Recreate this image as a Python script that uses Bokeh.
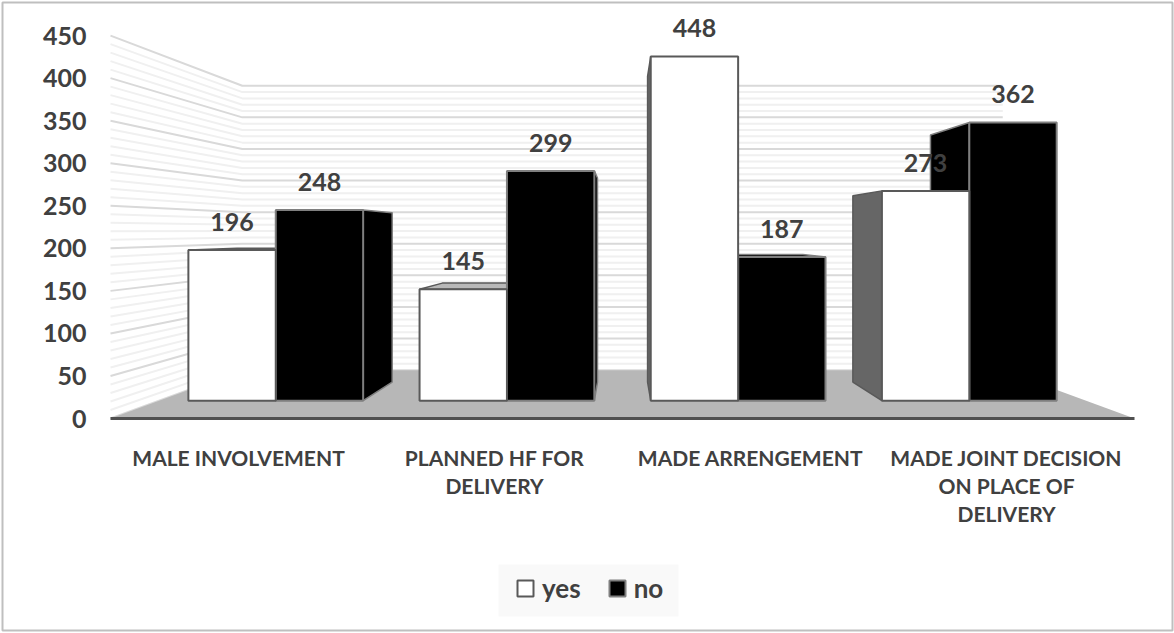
from bokeh.plotting import figure
from bokeh.models import ColumnDataSource, FixedTicker, Range1d, Legend, LegendItem, BoxAnnotation
from bokeh.core.properties import value
from bokeh.embed import file_html
from bokeh.resources import INLINE

categories = ["MALE INVOLVEMENT", "PLANNED HF FOR\nDELIVERY", "MADE ARRENGEMENT",
              "MADE JOINT DECISION\nON PLACE OF\nDELIVERY"]
yes_values = [196, 145, 448, 273]
no_values = [248, 299, 187, 362]
y_ticks = [0, 50, 100, 150, 200, 250, 300, 350, 400, 450]
minor_ticks = [v for v in range(0, 451, 10) if v % 50]

FONT = "Lato"
TEXT = "#404040"
# perspective of the 3-D scene, expressed in axis units
VX, VV = 1.5, 216.2        # vanishing point of the bars
VV_WALL = 220.9            # vanishing height of walls and floor
S_FRONT, S_DEPTH = 0.9030, 0.888   # bar front plane, bar back / front ratio
S_WALL = 0.7426            # back wall plane
BAR_W = 0.378              # width of one bar on the axis plane
X_L, X_R = -0.5, 3.5       # floor extent


def proj(x, v, s, vv=VV):
    return VX + s * (x - VX), vv + s * (v - vv)


p = figure(width=1174, height=633, output_backend="svg", toolbar_location=None,
           x_range=Range1d(-0.9297, 3.656), y_range=Range1d(-252.6, 491.2),
           min_border_left=0, min_border_right=0, min_border_top=0, min_border_bottom=0)
p.outline_line_color = None
p.grid.visible = False
p.background_fill_color = "white"
p.border_fill_color = "white"

# axes
ya = p.yaxis[0]
ya.fixed_location = X_L
ya.ticker = FixedTicker(ticks=y_ticks)
ya.axis_line_color = None
ya.major_tick_line_color = None
ya.minor_tick_line_color = None
ya.major_label_text_font = FONT
ya.major_label_text_font_style = "bold"
ya.major_label_text_font_size = "25px"
ya.major_label_text_color = TEXT
ya.major_label_standoff = 18

xa = p.xaxis[0]
xa.fixed_location = 0
xa.ticker = FixedTicker(ticks=[0, 1, 2, 3])
xa.major_label_overrides = {i: c for i, c in enumerate(categories)}
xa.bounds = (X_L, X_R)
xa.axis_line_color = "#505050"
xa.axis_line_width = 3
xa.major_tick_line_color = None
xa.minor_tick_line_color = None
xa.major_label_text_font = FONT
xa.major_label_text_font_style = "bold"
xa.major_label_text_font_size = "21px"
xa.major_label_text_color = TEXT
xa.major_label_text_line_height = 1.12
xa.major_label_standoff = 20


def wall_lines(ticks):
    xs, ys = [], []
    for v in ticks:
        a = proj(X_L, v, 1.0, VV_WALL)
        b = proj(X_L, v, S_WALL, VV_WALL)
        c = proj(X_R, v, S_WALL, VV_WALL)
        xs.append([a[0], b[0], c[0]])
        ys.append([a[1], b[1], c[1]])
    return xs, ys


mx, my = wall_lines(minor_ticks)
p.multi_line(mx, my, line_color="#f0f0f0", line_width=2)
Mx, My = wall_lines(y_ticks)
p.multi_line(Mx, My, line_color="#d9d9d9", line_width=2)

# floor
corners = [proj(X_L, 0, 1.0, VV_WALL), proj(X_R, 0, 1.0, VV_WALL),
           proj(X_R, 0, S_WALL, VV_WALL), proj(X_L, 0, S_WALL, VV_WALL)]
p.patch([c[0] for c in corners], [c[1] for c in corners], fill_color="#b7b7b7", line_color=None)

STYLE = {
    "yes": dict(front="#ffffff", side="#666666", top="#b8b8b8", edge="#595959"),
    "no": dict(front="#000000", side="#000000", top="#000000", edge="#7f7f7f"),
}
s_back = S_FRONT * S_DEPTH
faces = dict(xs=[], ys=[], fill=[], edge=[])


def add_face(points, fill, edge):
    faces["xs"].append([q[0] for q in points])
    faces["ys"].append([q[1] for q in points])
    faces["fill"].append(fill)
    faces["edge"].append(edge)


def add_bar(xl, xr, v, st):
    edge_x = xr if xr < VX else xl
    add_face([proj(edge_x, 0, S_FRONT), proj(edge_x, v, S_FRONT),
              proj(edge_x, v, s_back), proj(edge_x, 0, s_back)], st["side"], st["edge"])
    if v < VV:
        add_face([proj(xl, v, S_FRONT), proj(xr, v, S_FRONT),
                  proj(xr, v, s_back), proj(xl, v, s_back)], st["top"], st["edge"])


front = {"yes": dict(l=[], r=[], t=[], b=[]), "no": dict(l=[], r=[], t=[], b=[])}
labels = dict(x=[], y=[], text=[])
for i, (a, b) in enumerate(zip(yes_values, no_values)):
    add_bar(i - BAR_W, i, a, STYLE["yes"])
    add_bar(i, i + BAR_W, b, STYLE["no"])
    for name, xl, xr, v in (("yes", i - BAR_W, i, a), ("no", i, i + BAR_W, b)):
        front[name]["l"].append(proj(xl, 0, S_FRONT)[0])
        front[name]["r"].append(proj(xr, 0, S_FRONT)[0])
        front[name]["t"].append(proj(0, v, S_FRONT)[1])
        front[name]["b"].append(proj(0, 0, S_FRONT)[1])
        labels["x"].append(proj((xl + xr) / 2, 0, S_FRONT)[0])
        labels["y"].append(proj(0, v, S_FRONT)[1])
        labels["text"].append(str(v))

p.patches("xs", "ys", source=ColumnDataSource(faces), fill_color="fill", line_color="edge", line_width=1.5)

r_no = p.quad(left=front["no"]["l"], right=front["no"]["r"], top=front["no"]["t"], bottom=front["no"]["b"],
              fill_color=STYLE["no"]["front"], line_color=STYLE["no"]["edge"], line_width=2)
r_yes = p.quad(left=front["yes"]["l"], right=front["yes"]["r"], top=front["yes"]["t"], bottom=front["yes"]["b"],
               fill_color=STYLE["yes"]["front"], line_color=STYLE["yes"]["edge"], line_width=2)

p.text("x", "y", text="text", source=ColumnDataSource(labels), y_offset=-28,
       text_font=value(FONT), text_font_style="bold", text_font_size="25px",
       text_color=TEXT, text_align="center", text_baseline="middle")

# legend backdrop and chart border, in screen pixels (vertical measured from the bottom)
p.add_layout(BoxAnnotation(left=498, right=678, top=69, bottom=17,
                           left_units="screen", right_units="screen", top_units="screen", bottom_units="screen",
                           fill_color="#f9f9f9", fill_alpha=1, line_color=None, level="underlay"))
p.add_layout(BoxAnnotation(left=2, right=1172, top=631, bottom=3,
                           left_units="screen", right_units="screen", top_units="screen", bottom_units="screen",
                           fill_color=None, line_color="#bfbfbf", line_alpha=1, line_width=2))

legend = Legend(items=[LegendItem(label="yes", renderers=[r_yes]), LegendItem(label="no", renderers=[r_no])],
                orientation="horizontal", location=(515, 29), margin=0, padding=0,
                spacing=26, glyph_width=20, glyph_height=20, label_standoff=7,
                label_text_font=FONT, label_text_font_style="bold", label_text_font_size="26px",
                label_text_color=TEXT, background_fill_alpha=0,
                border_line_color=None)
p.add_layout(legend)

open("out.html", "w").write(file_html(p, INLINE))
